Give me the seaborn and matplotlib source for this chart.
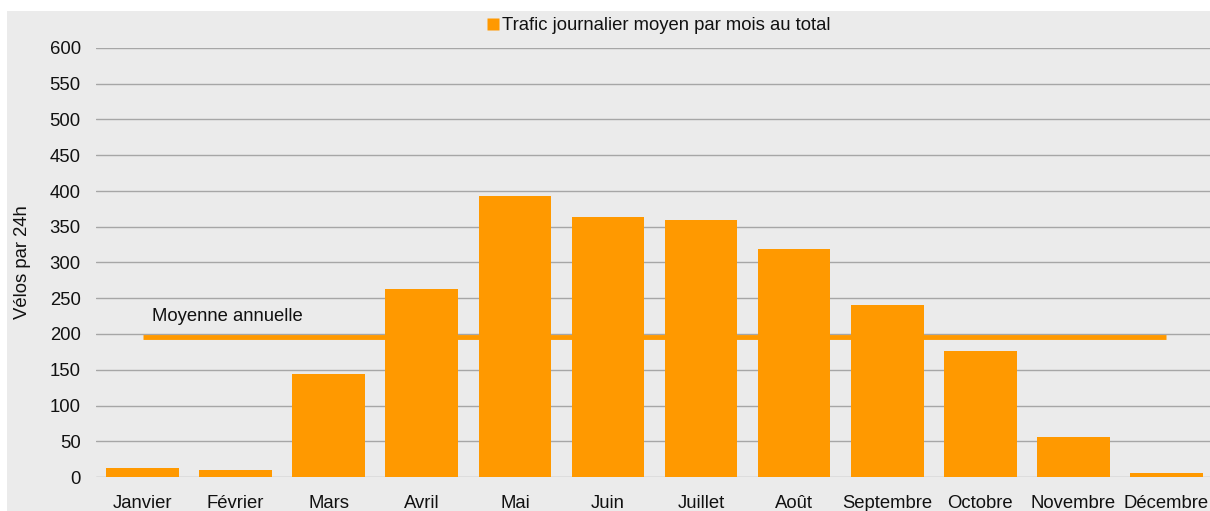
import matplotlib
matplotlib.use("Agg")
import matplotlib.pyplot as plt
import seaborn as sns
import pandas as pd
from matplotlib.patches import Rectangle
from matplotlib.lines import Line2D

months = ["Janvier", "Février", "Mars", "Avril", "Mai", "Juin", "Juillet",
          "Août", "Septembre", "Octobre", "Novembre", "Décembre"]
traffic = [12, 10, 144, 263, 393, 364, 359, 319, 240, 176, 56, 6]
annual_mean = 196
yticks = list(range(0, 601, 50))
series_label = "Trafic journalier moyen par mois au total"
mean_label = "Moyenne annuelle"
ylabel = "Vélos par 24h"

sns.set_theme(style="white")
plt.rcParams['font.family'] = ['Liberation Sans', 'DejaVu Sans']

orange = "#FF9900"
bg = "#EBEBEB"
grid = "#A6A6A6"
txt = "#111111"
fs = 13.3

W, H = 1210, 511
fig = plt.figure(figsize=(W / 100, H / 100), dpi=100)
fig.patch.set_facecolor("white")
fig.patches.append(Rectangle((7 / W, 0), 1 - 7 / W, 1 - 11 / H,
                             transform=fig.transFigure, facecolor=bg,
                             edgecolor="none", zorder=-10))

left, right = 96, 1213
top, bottom = 48, 477
ax = fig.add_axes([left / W, 1 - bottom / H, (right - left) / W, (bottom - top) / H])
ax.set_facecolor("none")

df = pd.DataFrame({"mois": months, "trafic": traffic})
sns.barplot(data=df, x="mois", y="trafic", color=orange, saturation=1,
            width=0.78, ax=ax, zorder=3, linewidth=0, edgecolor="none")

ax.hlines(annual_mean, 0, len(months) - 1, colors=orange, linewidth=3.5, zorder=2)
ax.text(0.1, annual_mean + 29, mean_label, fontsize=fs, color=txt,
        va="center", ha="left", zorder=5)

ax.set_ylim(0, 600)
ax.set_xlim(-0.5, len(months) - 0.5)
ax.set_yticks(yticks)
ax.set_yticklabels([str(t) for t in yticks])
for y in yticks:
    ax.axhline(y, color=grid, linewidth=1, zorder=1)

for s in ax.spines.values():
    s.set_visible(False)
ax.tick_params(axis="both", length=0, labelsize=fs, labelcolor=txt)
ax.tick_params(axis="y", pad=11)
ax.tick_params(axis="x", pad=13)
ax.set_xlabel("")
ax.set_ylabel(ylabel, fontsize=fs, color=txt)
ax.yaxis.set_label_coords(-65 / (right - left), 0.5)

handle = Line2D([], [], marker="s", color="none", markerfacecolor=orange,
                markeredgecolor="none", markersize=9)
fig.legend([handle], [series_label], loc="center",
           bbox_to_anchor=(657 / W, 1 - 26 / H), frameon=False,
           fontsize=fs, handletextpad=0.0, handlelength=1.0,
           labelcolor=txt)

fig.savefig("out.png", dpi=100)
